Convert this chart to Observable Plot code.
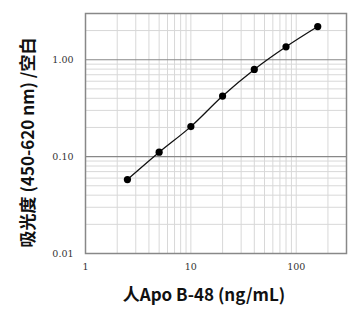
<!DOCTYPE html>
<html>
<head>
<meta charset="utf-8">
<script src="https://cdn.jsdelivr.net/npm/d3@7"></script>
<script src="https://cdn.jsdelivr.net/npm/@observablehq/plot@0.6"></script>
<style>
  html, body { margin: 0; padding: 0; background: #fff; }
</style>
</head>
<body>
<div id="chart"></div>
<script>
const concentration = [2.5, 5, 10, 20, 40, 80, 160];
const absorbance = [0.058, 0.111, 0.204, 0.422, 0.794, 1.36, 2.2];
const xTickLabels = [1, 10, 100];
const yTickLabels = [0.01, 0.1, 1];
const xGrid = [2,3,4,5,6,7,8,9,10,20,30,40,50,60,70,80,90,100,200];
const yGrid = [0.02,0.03,0.04,0.05,0.06,0.07,0.08,0.09,0.2,0.3,0.4,0.5,0.6,0.7,0.8,0.9,2];
const yMajor = [0.1, 1];
const xTitle = "人Apo B-48 (ng/mL)";
const yTitle = "吸光度 (450-620 nm) /空白";

const data = concentration.map((c, i) => ({c, a: absorbance[i]}));

const tickFont = "'DejaVu Serif', 'Liberation Serif', serif";
const labelFont = "'Noto Sans CJK SC', 'Noto Sans', sans-serif";

const chart = Plot.plot({
  width: 353,
  height: 321,
  marginLeft: 85,
  marginRight: 7,
  marginTop: 13,
  marginBottom: 68,
  style: {background: "#fff"},
  x: {type: "log", domain: [1, 300]},
  y: {type: "log", domain: [0.01, 3]},
  marks: [
    Plot.ruleX(xGrid, {stroke: "#d8d8d8", strokeWidth: 1}),
    Plot.ruleY(yGrid, {stroke: "#d8d8d8", strokeWidth: 1}),
    Plot.ruleY(yMajor, {stroke: "#888", strokeWidth: 1.2}),
    Plot.frame({stroke: "#888", strokeWidth: 1.5}),
    Plot.axisX({ticks: xTickLabels, tickFormat: d => String(d), tickSize: 0, tickPadding: 10,
      fontFamily: tickFont, fontSize: 9.5, fill: "#333", label: null}),
    Plot.axisY({ticks: yTickLabels, tickFormat: d => d.toFixed(2), tickSize: 0, tickPadding: 12,
      fontFamily: tickFont, fontSize: 9.5, fill: "#333", label: null}),
    Plot.line(data, {x: "c", y: "a", stroke: "#111", strokeWidth: 1.3, curve: "catmull-rom"}),
    Plot.dot(data, {x: "c", y: "a", r: 3.6, fill: "#000", stroke: "none"}),
    Plot.text([xTitle], {text: d => d, frameAnchor: "bottom", textAnchor: "middle", dx: -12, dy: 42, lineAnchor: "middle",
      fontFamily: labelFont, fontSize: 17, fontWeight: "bold", fill: "#111"}),
    Plot.text([yTitle], {text: d => d, frameAnchor: "left", textAnchor: "middle", rotate: -90, dx: -57, dy: 9, lineAnchor: "middle",
      fontFamily: labelFont, fontSize: 17, fontWeight: "bold", fill: "#111"})
  ]
});
document.getElementById("chart").appendChild(chart);
</script>
</body>
</html>
